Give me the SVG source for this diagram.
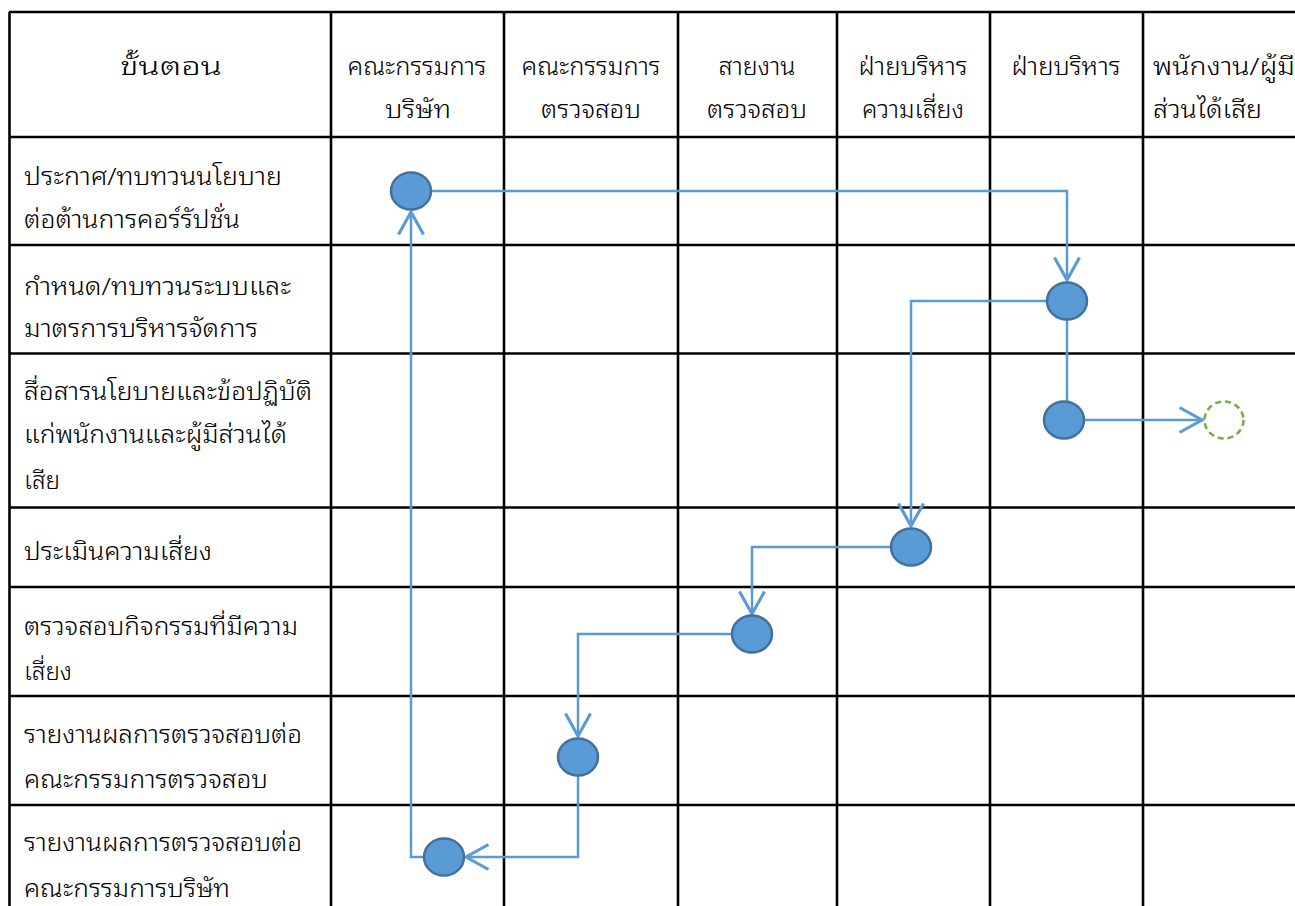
<svg xmlns="http://www.w3.org/2000/svg" width="1295" height="906" viewBox="0 0 1295 906">
<defs>
<style>
.grid line{stroke:#000;stroke-width:2.6}
.t{font-family:"Noto Sans Thai Looped","Noto Serif Thai","Loma","Garuda","Tlwg Typo","Noto Sans Thai","DejaVu Sans",sans-serif;font-size:24px;font-weight:300;fill:#000}
.c{text-anchor:middle}
.conn path{fill:none;stroke:#5b9bd5;stroke-width:2.5}
.node ellipse{fill:#5b9bd5;stroke:#41719c;stroke-width:2.5}
</style>
<marker id="arr" markerUnits="userSpaceOnUse" markerWidth="30" markerHeight="30" viewBox="-20 -12 22 24" refX="0" refY="0" orient="auto">
<path d="M-18,-10 L0,0 L-18,10" fill="none" stroke="#5b9bd5" stroke-width="2.5"/>
</marker>
</defs>
<rect width="1295" height="906" fill="#fff"/>
<g class="grid">
<line x1="9" y1="12" x2="1295" y2="12"/>
<line x1="9" y1="137" x2="1295" y2="137"/>
<line x1="9" y1="245" x2="1295" y2="245"/>
<line x1="9" y1="353.5" x2="1295" y2="353.5"/>
<line x1="9" y1="507.5" x2="1295" y2="507.5"/>
<line x1="9" y1="587" x2="1295" y2="587"/>
<line x1="9" y1="696" x2="1295" y2="696"/>
<line x1="9" y1="805" x2="1295" y2="805"/>
<line x1="9.5" y1="12" x2="9.5" y2="906"/>
<line x1="331" y1="12" x2="331" y2="906"/>
<line x1="504" y1="12" x2="504" y2="906"/>
<line x1="678" y1="12" x2="678" y2="906"/>
<line x1="837" y1="12" x2="837" y2="906"/>
<line x1="990" y1="12" x2="990" y2="906"/>
<line x1="1143" y1="12" x2="1143" y2="906"/>
</g>
<g id="header" class="t">
<text class="c" x="171" y="75" textLength="102" lengthAdjust="spacingAndGlyphs">ขั้นตอน</text>
<text class="c" x="417" y="75" textLength="139" lengthAdjust="spacingAndGlyphs">คณะกรรมการ</text>
<text class="c" x="418" y="118" textLength="66" lengthAdjust="spacingAndGlyphs">บริษัท</text>
<text class="c" x="591" y="75" textLength="139" lengthAdjust="spacingAndGlyphs">คณะกรรมการ</text>
<text class="c" x="591" y="118" textLength="100" lengthAdjust="spacingAndGlyphs">ตรวจสอบ</text>
<text class="c" x="757" y="75" textLength="77" lengthAdjust="spacingAndGlyphs">สายงาน</text>
<text class="c" x="757" y="118" textLength="100" lengthAdjust="spacingAndGlyphs">ตรวจสอบ</text>
<text class="c" x="913" y="75" textLength="109" lengthAdjust="spacingAndGlyphs">ฝ่ายบริหาร</text>
<text class="c" x="913" y="118" textLength="102" lengthAdjust="spacingAndGlyphs">ความเสี่ยง</text>
<text class="c" x="1066" y="75" textLength="109" lengthAdjust="spacingAndGlyphs">ฝ่ายบริหาร</text>
<text x="1153" y="75" textLength="142" lengthAdjust="spacingAndGlyphs">พนักงาน/ผู้มี</text>
<text x="1153" y="118" textLength="109" lengthAdjust="spacingAndGlyphs">ส่วนได้เสีย</text>
</g>
<g id="steps" class="t">
<text x="24" y="185" textLength="258" lengthAdjust="spacingAndGlyphs">ประกาศ/ทบทวนนโยบาย</text>
<text x="24" y="228" textLength="216" lengthAdjust="spacingAndGlyphs">ต่อต้านการคอร์รัปชั่น</text>
<text x="24" y="295" textLength="267" lengthAdjust="spacingAndGlyphs">กำหนด/ทบทวนระบบและ</text>
<text x="24" y="337" textLength="234" lengthAdjust="spacingAndGlyphs">มาตรการบริหารจัดการ</text>
<text x="24" y="400" textLength="288" lengthAdjust="spacingAndGlyphs">สื่อสารนโยบายและข้อปฏิบัติ</text>
<text x="24" y="443" textLength="263" lengthAdjust="spacingAndGlyphs">แก่พนักงานและผู้มีส่วนได้</text>
<text x="24" y="489" textLength="36" lengthAdjust="spacingAndGlyphs">เสีย</text>
<text x="24" y="560" textLength="188" lengthAdjust="spacingAndGlyphs">ประเมินความเสี่ยง</text>
<text x="24" y="635" textLength="274" lengthAdjust="spacingAndGlyphs">ตรวจสอบกิจกรรมที่มีความ</text>
<text x="24" y="680" textLength="48" lengthAdjust="spacingAndGlyphs">เสี่ยง</text>
<text x="24" y="743" textLength="278" lengthAdjust="spacingAndGlyphs">รายงานผลการตรวจสอบต่อ</text>
<text x="24" y="788" textLength="244" lengthAdjust="spacingAndGlyphs">คณะกรรมการตรวจสอบ</text>
<text x="24" y="851" textLength="278" lengthAdjust="spacingAndGlyphs">รายงานผลการตรวจสอบต่อ</text>
<text x="24" y="897" textLength="206" lengthAdjust="spacingAndGlyphs">คณะกรรมการบริษัท</text>
</g>
<g id="connectors" class="conn">
<path d="M431,191 H1067 V280" marker-end="url(#arr)"/>
<path d="M1047,301 H911 V526" marker-end="url(#arr)"/>
<path d="M1067,319 V402"/>
<path d="M1084,420 H1202" marker-end="url(#arr)"/>
<path d="M891,547 H752 V614" marker-end="url(#arr)"/>
<path d="M732,634 H578 V736" marker-end="url(#arr)"/>
<path d="M578,775 V857 H466" marker-end="url(#arr)"/>
<path d="M424,857 H411 V212" marker-end="url(#arr)"/>
</g>
<g id="n-board-announce" class="node"><ellipse cx="411" cy="191" rx="20" ry="18.5"/></g>
<g id="n-mgmt-define" class="node"><ellipse cx="1067" cy="301" rx="20" ry="18.5"/></g>
<g id="n-mgmt-communicate" class="node"><ellipse cx="1064" cy="420" rx="20" ry="18.5"/></g>
<g id="n-stakeholders"><ellipse cx="1224" cy="420" rx="19.5" ry="18.5" fill="none" stroke="#70ad47" stroke-width="2.5" stroke-dasharray="6,4"/></g>
<g id="n-risk-assess" class="node"><ellipse cx="911" cy="547" rx="20" ry="18.5"/></g>
<g id="n-audit-check" class="node"><ellipse cx="752" cy="634" rx="20" ry="18.5"/></g>
<g id="n-audit-committee" class="node"><ellipse cx="578" cy="757" rx="20" ry="18.5"/></g>
<g id="n-board-report" class="node"><ellipse cx="444" cy="857" rx="20" ry="18.5"/></g>
</svg>
